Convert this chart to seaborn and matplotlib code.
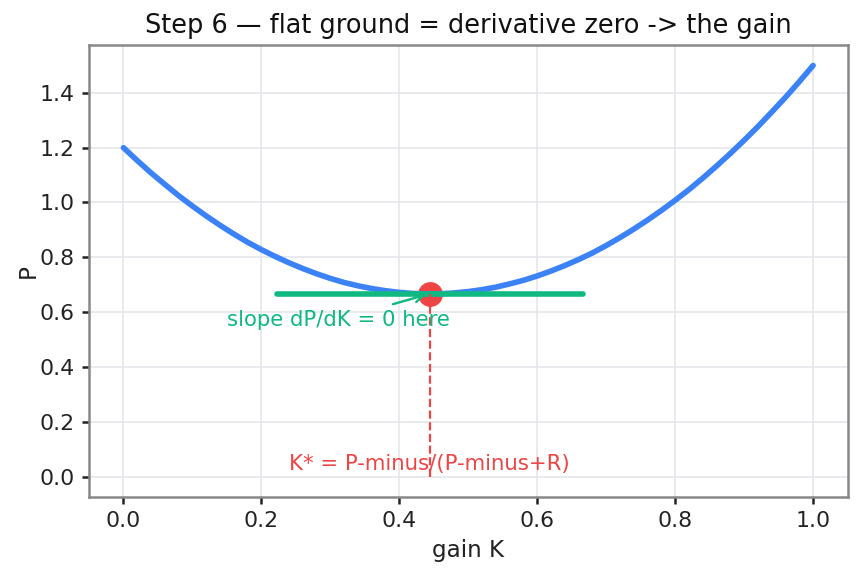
import numpy as np
import pandas as pd
import seaborn as sns
import matplotlib
matplotlib.use("Agg")
import matplotlib.pyplot as plt

# values (step 0.02 in K)
gain_k = [0.00, 0.02, 0.04, 0.06, 0.08, 0.10, 0.12, 0.14, 0.16, 0.18,
          0.20, 0.22, 0.24, 0.26, 0.28, 0.30, 0.32, 0.34, 0.36, 0.38,
          0.40, 0.42, 0.44, 0.46, 0.48, 0.50, 0.52, 0.54, 0.56, 0.58,
          0.60, 0.62, 0.64, 0.66, 0.68, 0.70, 0.72, 0.74, 0.76, 0.78,
          0.80, 0.82, 0.84, 0.86, 0.88, 0.90, 0.92, 0.94, 0.96, 0.98, 1.00]
p_values = [1.200, 1.153, 1.108, 1.066, 1.025, 0.987, 0.951, 0.917, 0.885, 0.855,
            0.828, 0.803, 0.780, 0.759, 0.740, 0.723, 0.708, 0.696, 0.686, 0.678,
            0.672, 0.668, 0.667, 0.667, 0.670, 0.675, 0.682, 0.691, 0.703, 0.716,
            0.732, 0.750, 0.770, 0.792, 0.816, 0.843, 0.872, 0.903, 0.936, 0.971,
            1.008, 1.047, 1.089, 1.133, 1.179, 1.227, 1.277, 1.330, 1.384, 1.441, 1.500]

k_star = 0.444
p_star = 0.667
tangent_k = [0.222, 0.667]
tangent_p = [0.667, 0.667]

BLUE = "#3b82f6"
GREEN = "#10b981"
RED = "#ef4444"

sns.set_theme(style="whitegrid")
plt.rcParams.update({
    "axes.edgecolor": "#888888",
    "axes.linewidth": 1.25,
    "grid.color": "#e3e6ea",
    "grid.linewidth": 0.8,
    "xtick.bottom": True,
    "ytick.left": True,
    "xtick.major.size": 3.5,
    "ytick.major.size": 3.5,
    "xtick.color": "#222222",
    "ytick.color": "#222222",
    "text.color": "#111111",
    "axes.labelcolor": "#222222",
})

df = pd.DataFrame({"gain K": gain_k, "P": p_values})

fig, ax = plt.subplots(figsize=(6, 4), dpi=144)
fig.subplots_adjust(left=0.103, right=0.981, top=0.922, bottom=0.137)

sns.lineplot(data=df, x="gain K", y="P", ax=ax, color=BLUE, linewidth=2.8)
ax.scatter([k_star], [p_star], s=130, color=RED)
ax.plot(tangent_k, tangent_p, color=GREEN, linewidth=2.8)
ax.plot([k_star, k_star], [0, p_star], color=RED, linestyle="--", linewidth=1.1)

ax.annotate("slope dP/dK = 0 here", xy=(k_star, p_star), xytext=(0.311, 0.572),
            ha="center", va="center", color=GREEN, fontsize=10.6,
            arrowprops=dict(arrowstyle="->", color=GREEN, lw=1.2))
ax.text(k_star, 0.045, "K* = P-minus/(P-minus+R)", ha="center", va="center",
        color=RED, fontsize=10.6)

ax.set_title("Step 6 \u2014 flat ground = derivative zero -> the gain", fontsize=12.8)
ax.set_xlabel("gain K", fontsize=11.5)
ax.set_ylabel("P", fontsize=11.5, labelpad=0)

fig.savefig("out.png", dpi=144)
